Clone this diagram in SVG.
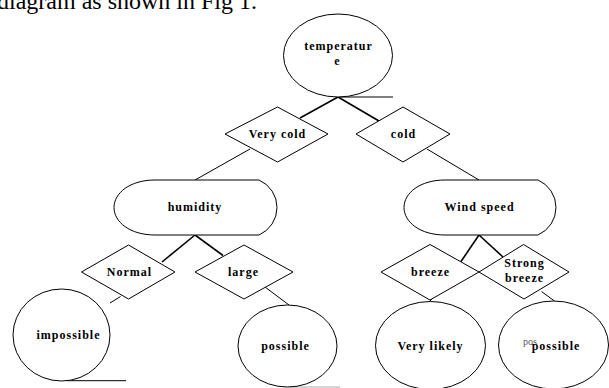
<svg xmlns="http://www.w3.org/2000/svg" width="609" height="388" viewBox="0 0 609 388">
<style>
.sh{fill:#fff;stroke:#000;stroke-width:1}
.lb{font-family:"Liberation Serif","Times New Roman",serif;font-weight:bold;font-size:12px;letter-spacing:1px;text-anchor:middle;fill:#000}
.c{stroke:#000;stroke-width:1;fill:none}
.ct{stroke:#000;stroke-width:1.6;fill:none}
</style>
<rect width="609" height="388" fill="#fff"/>
<text x="-3" y="8.5" font-family="Liberation Serif,'Times New Roman',serif" font-size="24" fill="#000">diagram as shown in Fig 1.</text>
<g id="connectors">
<line class="c" x1="338" y1="97" x2="393" y2="97" stroke="#444"/>
<line class="ct" x1="338" y1="97" x2="300" y2="118"/>
<line class="ct" x1="338" y1="97" x2="379" y2="121"/>
<line class="c" x1="250" y1="149" x2="195" y2="180"/>
<line class="c" x1="427" y1="149" x2="479" y2="180"/>
<line class="ct" x1="195" y1="235" x2="162" y2="262"/>
<line class="ct" x1="195" y1="235" x2="223" y2="255.5"/>
<line class="ct" x1="479" y1="235" x2="461" y2="261.5"/>
<line class="ct" x1="479" y1="235" x2="503" y2="257"/>
<line class="c" x1="120.5" y1="296.5" x2="110" y2="303"/>
<line class="c" x1="265" y1="287" x2="289" y2="305"/>
<line class="c" x1="432" y1="299" x2="429" y2="302"/>
<line class="c" x1="541.5" y1="291.5" x2="554.5" y2="301"/>
<line class="c" x1="67" y1="380.7" x2="126" y2="380.7"/>
<line x1="290" y1="387" x2="340" y2="387" stroke="#aaa" stroke-width="1"/>
</g>
<g id="temperature">
<ellipse class="sh" cx="338" cy="55.5" rx="54.5" ry="41.5"/>
<text class="lb" x="338.5" y="49.5">temperatur</text>
<text class="lb" x="337.5" y="64.5">e</text>
</g>
<g id="very-cold">
<polygon class="sh" points="225,134 277.5,107 328,134 277.5,162"/>
<text class="lb" x="277.5" y="138">Very cold</text>
</g>
<g id="cold">
<polygon class="sh" points="356,134 403,107 450,134 403,162"/>
<text class="lb" x="403.5" y="138">cold</text>
</g>
<g id="humidity">
<path class="sh" d="M155,180 L259,180 A30,30 0 0 1 259,235 L155,235 C130,235 114,222 114,207.5 C114,193 130,180 155,180 Z"/>
<text class="lb" x="195" y="211">humidity</text>
</g>
<g id="wind-speed">
<path class="sh" d="M445,180 L538,180 A30,30 0 0 1 538,235 L445,235 C420,235 404,222 404,207.5 C404,193 420,180 445,180 Z"/>
<text class="lb" x="479.5" y="211">Wind speed</text>
</g>
<g id="normal">
<polygon class="sh" points="81.5,272 128.5,245 175,272 128.5,299"/>
<text class="lb" x="129.5" y="276">Normal</text>
</g>
<g id="large">
<polygon class="sh" points="195,272 244,245 293,272 244,299"/>
<text class="lb" x="243.5" y="276">large</text>
</g>
<g id="breeze">
<polygon class="sh" points="381,272 430,244.5 479,272 430,300"/>
<text class="lb" x="430.5" y="276">breeze</text>
</g>
<g id="strong-breeze">
<polygon class="sh" points="479,272 523.5,244.5 569,272 524,299"/>
<text class="lb" x="524.5" y="267">Strong</text>
<text class="lb" x="524.5" y="282">breeze</text>
</g>
<g id="impossible">
<ellipse class="sh" cx="61.5" cy="335" rx="48.5" ry="46"/>
<text class="lb" x="68.5" y="339">impossible</text>
</g>
<g id="possible-1">
<ellipse class="sh" cx="287.5" cy="346" rx="49.5" ry="41"/>
<text class="lb" x="285.5" y="350">possible</text>
</g>
<g id="very-likely">
<ellipse class="sh" cx="430.5" cy="345.5" rx="55" ry="44"/>
<text class="lb" x="430.5" y="350">Very likely</text>
</g>
<g id="possible-2">
<ellipse class="sh" cx="553.5" cy="345" rx="55" ry="44"/>
<text x="523" y="344.5" font-family="Liberation Serif,'Times New Roman',serif" font-size="10" fill="#555">pos</text>
<text class="lb" x="556" y="350">possible</text>
</g>
</svg>
